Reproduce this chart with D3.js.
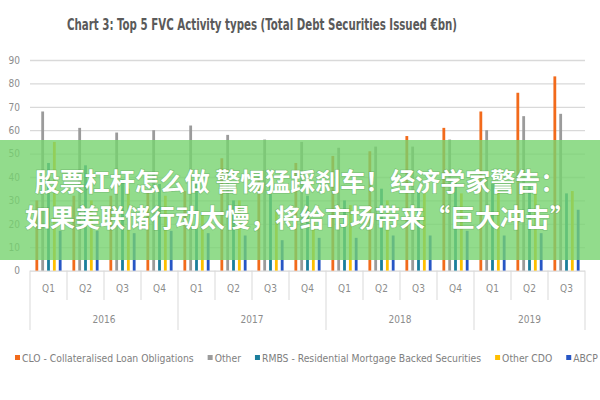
<!DOCTYPE html>
<html>
<head>
<meta charset="utf-8">
<script src="https://cdn.jsdelivr.net/npm/d3@7"></script>
<style>
  html, body { margin: 0; padding: 0; background: #fff; }
  svg { display: block; }
  text { font-family: "Liberation Sans Narrow", "DejaVu Sans Condensed", Lato, sans-serif; }
</style>
</head>
<body>
<svg id="chart" width="600" height="400"></svg>
<script>
// ---- data ----
const periodYears    = ["2016","2016","2016","2016","2017","2017","2017","2017","2018","2018","2018","2018","2019","2019","2019"];
const periodQuarters = ["Q1","Q2","Q3","Q4","Q1","Q2","Q3","Q4","Q1","Q2","Q3","Q4","Q1","Q2","Q3"];
const seriesNames = ["CLO - Collateralised Loan Obligations","Other","RMBS - Residential Mortgage Backed Securities","Other CDO","ABCP"];
const cloValues      = [30, 32, 32, 34, 34, 48, 40, 46, 49, 51, 57.5, 61, 68, 76, 83];
const otherValues    = [68, 61, 59, 60, 62, 58, 56, 55, 52.5, 53, 53, 56, 60, 66, 67];
const rmbsValues     = [46, 45, 39, 37, 38, 30, 36, 32, 30, 35, 34, 39, 37, 36, 33];
const otherCdoValues = [55, 30, 35, 32, 24, 30, 26, 22, 28, 30, 33, 33, 34, 35, 34];
const abcpValues     = [17, 17, 16, 17, 16, 15, 13, 14, 14, 15, 15, 17, 15, 16, 26];
const yTicks = [0,10,20,30,40,50,60,70,80,90];
const titleText = "Chart 3: Top 5 FVC Activity types (Total Debt Securities Issued €bn)";
const bannerLines = ["股票杠杆怎么做 警惕猛踩刹车！经济学家警告：", "如果美联储行动太慢，将给市场带来“巨大冲击”"];

const seriesValues = [cloValues, otherValues, rmbsValues, otherCdoValues, abcpValues];
const colors = ["#f26a1b", "#9b9b9b", "#1b7e9c", "#ffbf00", "#2756c5"];
const periodKeys = periodYears.map((y, i) => y + "-" + periodQuarters[i]);

// ---- layout ----
const svg = d3.select("#chart");
const plot = { left: 30, right: 585, top: 60, bottom: 270.6 };

const x = d3.scaleBand().domain(periodKeys).range([plot.left, plot.right]).padding(0);
const xs = d3.scaleBand().domain(d3.range(seriesNames.length)).range([0, x.bandwidth()])
  .paddingInner(0.52).paddingOuter(0.93);
const y = d3.scaleLinear().domain([0, 90]).range([plot.bottom, plot.top]);

// title
svg.append("text")
  .attr("x", 262).attr("y", 30)
  .attr("text-anchor", "middle")
  .attr("font-size", 15).attr("font-weight", "bold")
  .attr("fill", "#5a5a5a")
  .attr("textLength", 390).attr("lengthAdjust", "spacingAndGlyphs")
  .text(titleText);

// y axis with gridlines
const yAxis = d3.axisLeft(y).tickValues(yTicks).tickSize(-(plot.right - plot.left)).tickPadding(10);
const gy = svg.append("g").attr("transform", `translate(${plot.left},0)`).call(yAxis);
gy.select(".domain").remove();
gy.selectAll(".tick line").attr("stroke", "#d9d9d9").attr("stroke-width", 1.3);
gy.selectAll(".tick text").attr("fill", "#8c8c8c").attr("font-size", 10)
  .style("font-family", '"Liberation Sans Narrow", "DejaVu Sans Condensed", Lato, sans-serif');

// bars
const groups = svg.append("g").selectAll("g")
  .data(seriesValues).join("g").attr("fill", (d, i) => colors[i]);
groups.each(function(vals, si) {
  d3.select(this).selectAll("rect").data(vals).join("rect")
    .attr("x", (v, pi) => x(periodKeys[pi]) + xs(si))
    .attr("width", xs.bandwidth())
    .attr("y", v => y(v))
    .attr("height", v => y(0) - y(v));
});

// x axis: quarter labels
const xAxis = d3.axisBottom(x).tickSize(0).tickPadding(14).tickFormat(k => k.split("-")[1]);
const gx = svg.append("g").attr("transform", `translate(0,${plot.bottom})`).call(xAxis);
gx.select(".domain").remove();
gx.selectAll(".tick text").attr("fill", "#8c8c8c").attr("font-size", 10)
  .style("font-family", '"Liberation Sans Narrow", "DejaVu Sans Condensed", Lato, sans-serif');

// separators
const yearsUnique = Array.from(new Set(periodYears));
const sepG = svg.append("g").attr("stroke", "#d9d9d9").attr("stroke-width", 1);
periodKeys.forEach((k, i) => {
  const isYearStart = i === 0 || periodYears[i] !== periodYears[i - 1];
  sepG.append("line").attr("x1", x(k)).attr("x2", x(k))
    .attr("y1", plot.bottom).attr("y2", isYearStart ? 330 : 300);
});
sepG.append("line").attr("x1", plot.right).attr("x2", plot.right)
  .attr("y1", plot.bottom).attr("y2", 330);

// year labels
yearsUnique.forEach(yr => {
  const keys = periodKeys.filter((k, i) => periodYears[i] === yr);
  const x0 = x(keys[0]), x1 = x(keys[keys.length - 1]) + x.bandwidth();
  svg.append("text").attr("x", (x0 + x1) / 2).attr("y", 323)
    .attr("text-anchor", "middle").attr("font-size", 10).attr("fill", "#8c8c8c")
    .text(yr);
});

// legend
const lg = svg.append("g").attr("transform", "translate(15,359)");
let lx = 0;
seriesNames.forEach((name, i) => {
  lg.append("rect").attr("x", lx).attr("y", -4).attr("width", 5).attr("height", 5).attr("fill", colors[i]);
  const t = lg.append("text").attr("x", lx + 7).attr("y", 0).attr("dy", "0.32em")
    .attr("font-size", 10.3).attr("fill", "#808080").text(name);
  lx += 7 + t.node().getComputedTextLength() + 14;
});

// overlay banner
svg.append("rect").attr("x", 0).attr("y", 140).attr("width", 600).attr("height", 120)
  .attr("fill", "rgb(119,211,111)").attr("fill-opacity", 0.8);
const bannerY = [191, 227];
bannerLines.forEach((line, i) => {
  svg.append("text")
    .attr("x", 300).attr("y", bannerY[i])
    .attr("text-anchor", "middle")
    .attr("font-size", 25).attr("font-weight", "bold")
    .attr("fill", "#ffffff")
    .style("font-family", '"Noto Sans CJK SC", sans-serif')
    .style("paint-order", "stroke")
    .attr("stroke", "rgba(60,120,60,0.25)").attr("stroke-width", 1.5)
    .text(line);
});
</script>
</body>
</html>
